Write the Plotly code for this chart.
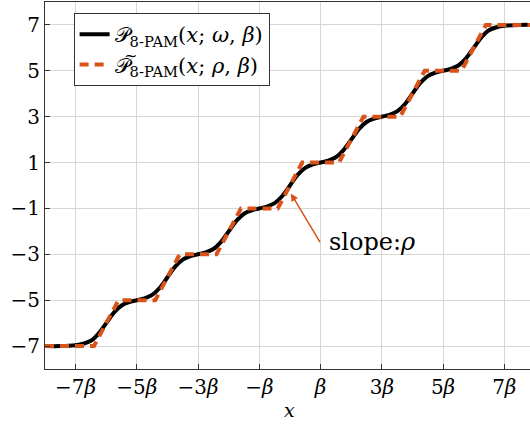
import plotly.graph_objects as go

# smooth staircase P_8-PAM(x; omega, beta), x in units of beta
x_smooth = [-8, -7.5, -7, -6.75, -6.5, -6.25, -6, -5.75, -5.5, -5.25,
            -5, -4.75, -4.5, -4.25, -4, -3.75, -3.5, -3.25,
            -3, -2.75, -2.5, -2.25, -2, -1.75, -1.5, -1.25,
            -1, -0.75, -0.5, -0.25, 0, 0.25, 0.5, 0.75,
            1, 1.25, 1.5, 1.75, 2, 2.25, 2.5, 2.75,
            3, 3.25, 3.5, 3.75, 4, 4.25, 4.5, 4.75,
            5, 5.25, 5.5, 5.75, 6, 6.25, 6.5, 6.75, 7, 7.5, 8]
y_smooth = [-7.0, -7.0, -6.96, -6.9, -6.77, -6.46, -6.0, -5.54, -5.23, -5.08,
            -5.0, -4.92, -4.77, -4.46, -4.0, -3.54, -3.23, -3.08,
            -3.0, -2.92, -2.77, -2.46, -2.0, -1.54, -1.23, -1.08,
            -1.0, -0.92, -0.77, -0.46, 0.0, 0.46, 0.77, 0.92,
            1.0, 1.08, 1.23, 1.54, 2.0, 2.46, 2.77, 2.92,
            3.0, 3.08, 3.23, 3.54, 4.0, 4.46, 4.77, 4.92,
            5.0, 5.08, 5.23, 5.54, 6.0, 6.46, 6.77, 6.9, 6.96, 7.0, 7.0]

# piecewise-linear approximation P~_8-PAM(x; rho, beta)
x_pwl = [-8, -6.4, -5.6, -4.4, -3.6, -2.4, -1.6, -0.4, 0.4, 1.6, 2.4, 3.6, 4.4, 5.6, 6.4, 8]
y_pwl = [-7, -7, -5, -5, -3, -3, -1, -1, 1, 1, 3, 3, 5, 5, 7, 7]

x_tickvals = [-7, -5, -3, -1, 1, 3, 5, 7]
x_ticktext = ["−7<i>β</i>", "−5<i>β</i>", "−3<i>β</i>", "−<i>β</i>",
              "<i>β</i>", "3<i>β</i>", "5<i>β</i>", "7<i>β</i>"]
y_tickvals = [-7, -5, -3, -1, 1, 3, 5, 7]
y_ticktext = ["−7", "−5", "−3", "−1", "1", "3", "5", "7"]

ORANGE = "#D95319"
FONT = "DejaVu Serif"

fig = go.Figure()
fig.add_trace(go.Scatter(
    x=x_smooth, y=y_smooth, mode="lines",
    line=dict(color="black", width=4, shape="spline", smoothing=1),
    name="𝒫<sub>8-PAM</sub>(<i>x</i>; <i>ω</i>, <i>β</i>)"))
fig.add_trace(go.Scatter(
    x=x_pwl, y=y_pwl, mode="lines",
    line=dict(color=ORANGE, width=4, dash="9px,6px"),
    name="𝒫<sub>8-PAM</sub>(<i>x</i>; <i>ρ</i>, <i>β</i>)"))

fig.add_annotation(x=0.03, y=-0.35, xref="x", yref="y", text="",
                   showarrow=True, arrowhead=2, arrowsize=1, arrowwidth=1.5,
                   arrowcolor=ORANGE, ax=30, ay=50)
fig.add_annotation(x=1.21, y=-2.45, xref="x", yref="y",
                   text="slope:<i>ρ</i>", showarrow=False,
                   xanchor="left", yanchor="middle",
                   font=dict(family=FONT, size=24, color="black"))
fig.add_annotation(x=0, y=-0.113, xref="x", yref="paper",
                   text="<i>x</i>", showarrow=False,
                   xanchor="center", yanchor="middle",
                   font=dict(family=FONT, size=19, color="black"))
# tilde accent over the second legend symbol
fig.add_annotation(x=0.177, y=0.853, xref="paper", yref="paper",
                   text="~", showarrow=False,
                   xanchor="center", yanchor="middle",
                   font=dict(family=FONT, size=16, color="black"))

axis_common = dict(showgrid=True, gridcolor="#d6d6d6", gridwidth=1,
                   showline=True, linecolor="#333333", linewidth=1.2,
                   mirror=True, ticks="inside", ticklen=5, tickcolor="#333333",
                   zeroline=False, tickfont=dict(family=FONT, size=20, color="black"))

fig.update_xaxes(range=[-8, 7.84], tickvals=x_tickvals, ticktext=x_ticktext, **axis_common)
fig.update_yaxes(range=[-8, 8], tickvals=y_tickvals, ticktext=y_ticktext, **axis_common)

fig.update_layout(
    width=530, height=428,
    margin=dict(l=45, r=0, t=2, b=59),
    plot_bgcolor="white", paper_bgcolor="white",
    showlegend=True,
    legend=dict(x=0.059, y=0.97, xanchor="left", yanchor="top",
                bgcolor="white", bordercolor="#333333", borderwidth=1,
                font=dict(family=FONT, size=21, color="black"),
                tracegroupgap=0),
)

fig.write_html("out.html")
